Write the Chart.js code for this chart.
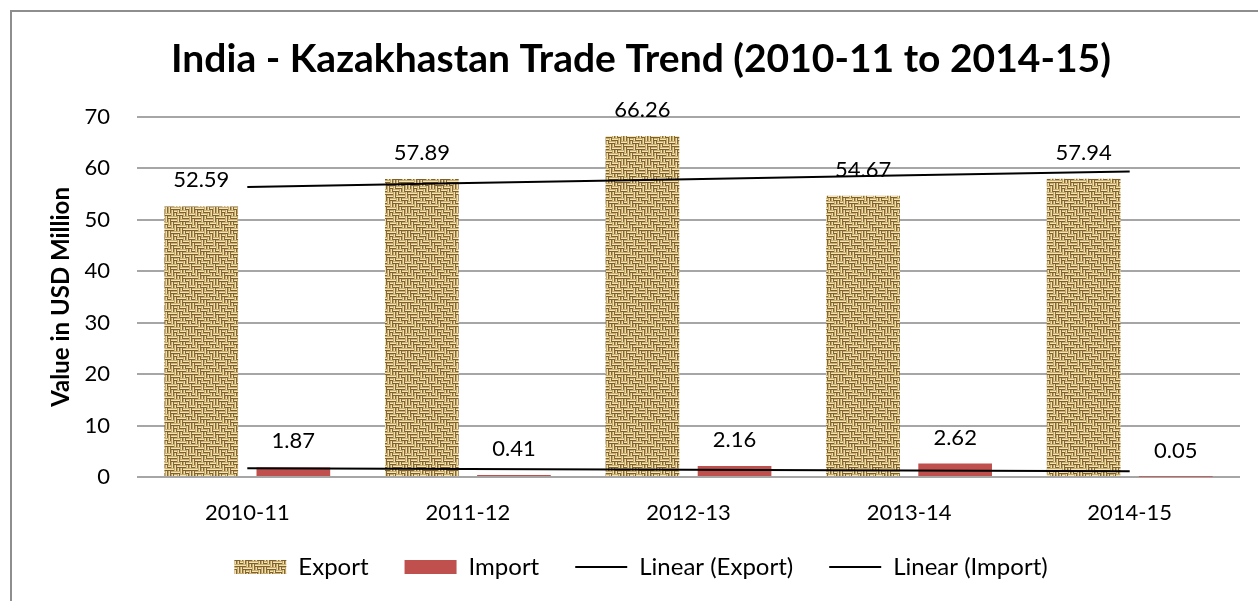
<!DOCTYPE html>
<html><head><meta charset="utf-8">
<script src="https://cdn.jsdelivr.net/npm/chart.js@4/dist/chart.umd.min.js"></script>
<style>
html,body{margin:0;padding:0;background:#fff;overflow:hidden}
#wrap{position:absolute;left:0;top:0;width:1258px;height:601px}
#frame{position:absolute;left:10px;top:10px;width:1300px;height:700px;border:2px solid #8e8e8e;pointer-events:none}
canvas{position:absolute;left:0;top:0}
</style></head><body>
<div id="wrap"><canvas id="c" width="1258" height="601"></canvas></div>
<div id="frame"></div>
<script>
const categories = ['2010-11','2011-12','2012-13','2013-14','2014-15'];
const exportValues = [52.59, 57.89, 66.26, 54.67, 57.94];
const importValues = [1.87, 0.41, 2.16, 2.62, 0.05];
const yTicks = [0,10,20,30,40,50,60,70];
const titleText = 'India - Kazakhastan Trade Trend (2010-11 to 2014-15)';
const yAxisTitle = 'Value in USD Million';

function linearTrend(vals){
  const n = vals.length; const xs = vals.map((_,i)=>i+1);
  const mx = xs.reduce((a,b)=>a+b,0)/n, my = vals.reduce((a,b)=>a+b,0)/n;
  let num=0, den=0;
  xs.forEach((x,i)=>{num+=(x-mx)*(vals[i]-my); den+=(x-mx)*(x-mx);});
  const s = num/den;
  return xs.map(x=>my + s*(x-mx));
}

function makeBurlap(){
  const weave=["hhhvvhhv","vhhvhhhv","vvhhvvhh","hvvhhhvv","hhvvvhhh","vhhhvvhv","vvhvhhvv","hvvhhvvh"];
  const C=3, N=8;
  const t = document.createElement('canvas'); t.width=C*N; t.height=C*N;
  const g = t.getContext('2d');
  const hs=['#c9ad6f','#f4e5b2','#7d6030'];
  const vs=['#c4a869','#f0dfa6','#86673a'];
  for(let r=0;r<N;r++)for(let c=0;c<N;c++){
    const k=weave[r][c];
    for(let i=0;i<C;i++){
      if(k==='h'){ g.fillStyle=hs[i]; g.fillRect(c*C, r*C+i, C, 1); }
      else { g.fillStyle=vs[i]; g.fillRect(c*C+i, r*C, 1, C); }
    }
  }
  return g.createPattern(t,'repeat');
}
const burlap = makeBurlap();

const labelPlugin = {
  id:'barLabels',
  afterDatasetsDraw(chart){
    const ctx=chart.ctx; ctx.save();
    ctx.font='22px Lato'; ctx.fillStyle='#000'; ctx.textAlign='center'; ctx.textBaseline='middle';
    chart.data.datasets.forEach((ds,di)=>{
      if(ds.type==='line') return;
      const meta=chart.getDatasetMeta(di);
      meta.data.forEach((el,i)=>{ ctx.fillText(ds.data[i].toFixed(2), el.x, el.y-26); });
    });
    ctx.restore();
  }
};

Chart.defaults.font.family='Lato';
Chart.defaults.color='#000';

new Chart(document.getElementById('c'),{
  data:{
    labels:categories,
    datasets:[
      {type:'bar',label:'Export',data:exportValues,backgroundColor:burlap,order:2,categoryPercentage:0.835,barPercentage:0.8},
      {type:'bar',label:'Import',data:importValues,backgroundColor:'#c0504d',order:2,categoryPercentage:0.835,barPercentage:0.8},
      {type:'line',label:'Linear (Export)',data:linearTrend(exportValues),borderColor:'#000',borderWidth:2,pointRadius:0,fill:false,order:0},
      {type:'line',label:'Linear (Import)',data:linearTrend(importValues),borderColor:'#000',borderWidth:2,pointRadius:0,fill:false,order:0}
    ]
  },
  options:{
    responsive:false, animation:false,
    layout:{padding:{left:42,right:18,top:0,bottom:12}},
    plugins:{
      tooltip:{enabled:false},
      title:{display:true,text:titleText,font:{size:39,weight:'bold'},color:'#000',padding:{top:36,bottom:34}},
      legend:{position:'bottom',
        labels:{usePointStyle:true,pointStyleWidth:52,boxHeight:14,padding:36,font:{size:24},color:'#000',
          generateLabels(chart){
            return chart.data.datasets.map((ds,i)=>({
              text:ds.label, datasetIndex:i, hidden:false, fontColor:'#000',
              fillStyle: ds.type==='line'?'#000':ds.backgroundColor,
              strokeStyle:'#000', lineWidth: ds.type==='line'?2:0,
              pointStyle: ds.type==='line'?'line':'rect'
            }));
          }}}
    },
    scales:{
      x:{grid:{display:false},border:{display:false},
        ticks:{padding:14.6,font:{size:22},color:'#000'},
        afterFit(s){ s.height=42; s._computeLabelArea=function(){return undefined;}; }},
      y:{min:0,max:70,
        afterBuildTicks(s){s.ticks=yTicks.map(v=>({value:v}));},
        grid:{color:'#a6a6a6',lineWidth:2,drawTicks:false},border:{display:false},
        ticks:{padding:27,font:{size:22},color:'#000'},
        title:{display:true,text:yAxisTitle,font:{size:24,weight:'bold'},color:'#000',padding:{top:4.6,bottom:0}},
        afterFit(s){s.width=95;}}
    }
  },
  plugins:[labelPlugin]
});
</script>
</body></html>
